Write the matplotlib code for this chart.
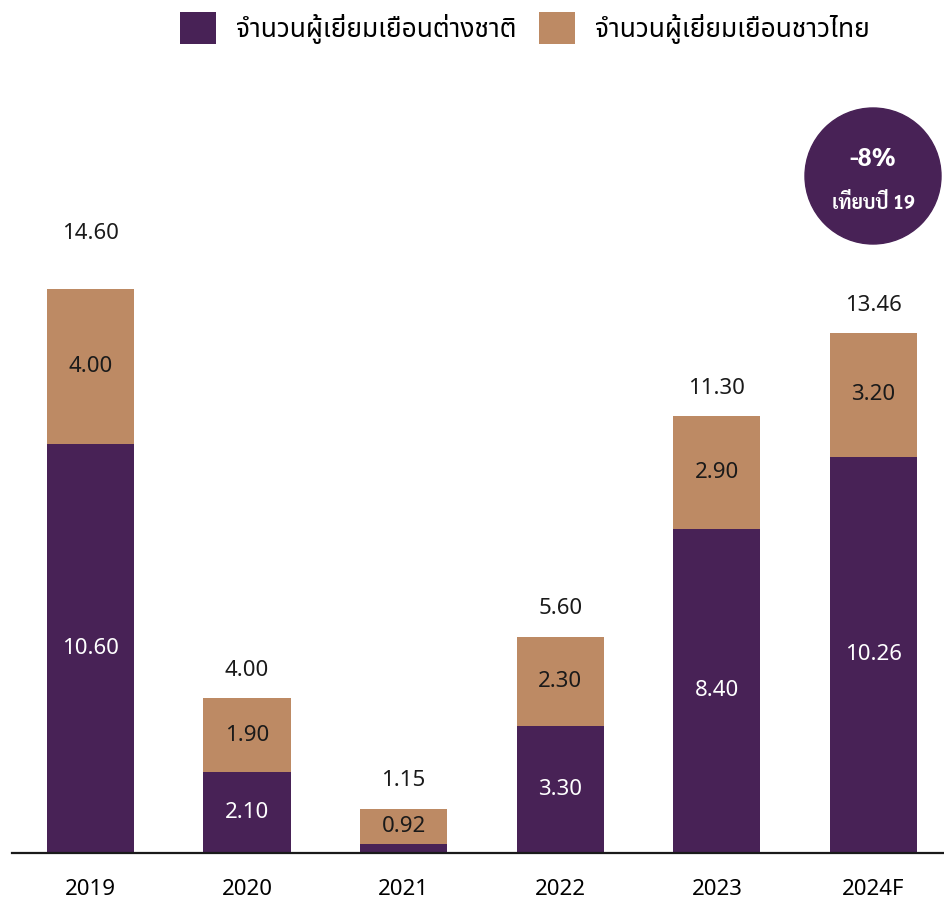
import matplotlib
matplotlib.use('Agg')
import matplotlib.pyplot as plt
from matplotlib import font_manager as fm
from matplotlib.patches import Ellipse

# ── Data ─────────────────────────────────────
years = ['2019', '2020', '2021', '2022', '2023', '2024F']
foreign = [10.60, 2.10, 0.23, 3.30, 8.40, 10.26]
thai = [4.00, 1.90, 0.92, 2.30, 2.90, 3.20]
totals = [14.60, 4.00, 1.15, 5.60, 11.30, 13.46]
foreign_labels = ['10.60', '2.10', '', '3.30', '8.40', '10.26']
thai_labels = ['4.00', '1.90', '0.92', '2.30', '2.90', '3.20']
legend_labels = ['จำนวนผู้เยี่ยมเยือนต่างชาติ', 'จำนวนผู้เยี่ยมเยือนชาวไทย']
badge_big = '-8%'
badge_small = 'เทียบปี 19'

PURPLE = '#482256'
TAN = '#bd8a64'

# pick a font that has Thai glyphs (and one with a real bold for the badge)
available = {f.name for f in fm.fontManager.ttflist}
thai_font = next((f for f in ['Noto Sans Thai', 'Sarabun', 'Athiti', 'Bai Jamjuree']
                  if f in available), 'DejaVu Sans')
bold_ok = {f.name for f in fm.fontManager.ttflist
           if f.weight in ('bold', 700, 'semibold', 600)}
bold_font = next((f for f in [thai_font, 'Sarabun', 'Athiti', 'Bai Jamjuree']
                  if f in bold_ok), thai_font)
plt.rcParams['font.family'] = [thai_font, 'DejaVu Sans']

fig = plt.figure(figsize=(9.44, 9.0), dpi=100)
ax = fig.add_axes([12 / 944, 47 / 900, 932 / 944, (853 - 80.4) / 900])

x = list(range(len(years)))
w = 0.556
ax.bar(x, foreign, width=w, color=PURPLE, label=legend_labels[0])
ax.bar(x, thai, width=w, bottom=foreign, color=TAN, label=legend_labels[1])

for i in x:
    if foreign_labels[i]:
        ax.text(i, foreign[i] / 2, foreign_labels[i], ha='center', va='center',
                color='white', fontsize=16)
    ax.text(i, foreign[i] + thai[i] / 2, thai_labels[i], ha='center', va='center',
            color='#1a1a1a', fontsize=16)
    off = 56 if i == 0 else 28
    ax.annotate(f'{totals[i]:.2f}', (i, totals[i]), xytext=(0, off * 0.72),
                textcoords='offset points', ha='center', va='center',
                color='#1a1a1a', fontsize=16)

ax.set_xlim(-0.5, 5.45)
ax.set_ylim(0, 20)
ax.set_xticks(x)
ax.set_xticklabels(years, fontsize=16)
ax.tick_params(axis='x', length=0, pad=19)
ax.set_yticks([])
for s in ['left', 'right', 'top']:
    ax.spines[s].set_visible(False)
ax.spines['bottom'].set_linewidth(1.6)
ax.spines['bottom'].set_color('#1a1a1a')

fig.legend(loc='center', bbox_to_anchor=(0.556, 1 - 28 / 900), ncol=2, frameon=False,
           fontsize=19, handlelength=1.37, handleheight=1.5, handletextpad=0.75,
           columnspacing=0.85, borderpad=0)

# ── Badge ─────────────────────────────────────
fig.patches.append(Ellipse((873 / 944, 1 - 176 / 900), 136 / 944, 136 / 900,
                           transform=fig.transFigure, color=PURPLE))
fig.text(873 / 944, 1 - 160 / 900, badge_big, ha='center', va='center',
         color='white', fontsize=18, fontweight='bold', family=[bold_font, 'DejaVu Sans'])
fig.text(873 / 944, 1 - 203 / 900, badge_small, ha='center', va='center',
         color='white', fontsize=14, fontweight='bold', family=[bold_font, 'DejaVu Sans'])

fig.savefig('out.png', dpi=100)
